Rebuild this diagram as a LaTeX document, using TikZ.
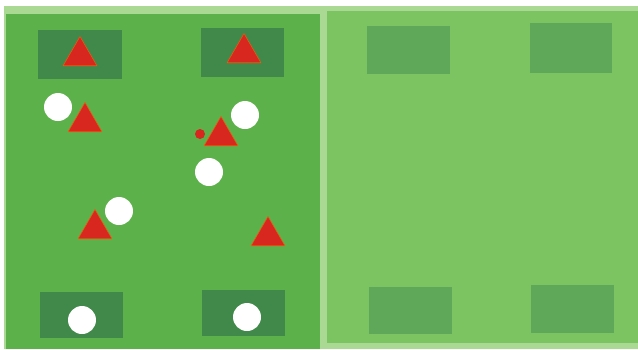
\documentclass[tikz,border=0pt]{standalone}
\usetikzlibrary{shapes.geometric}

\definecolor{edgegreen}{HTML}{A9D993}
\definecolor{fieldL}{HTML}{5DB14A}
\definecolor{fieldR}{HTML}{7CC462}
\definecolor{zoneLc}{HTML}{40894A}
\definecolor{zoneRc}{HTML}{5FA85A}
\definecolor{playerred}{HTML}{D8271E}

\tikzset{
    zoneL/.style={fill=zoneLc},
    zoneR/.style={fill=zoneRc},
    player/.style={regular polygon, regular polygon sides=3, fill=playerred,
        draw=orange!60!playerred, line width=0.3pt, inner sep=0pt, minimum size=0.78cm},
    ball/.style={circle, fill=white, inner sep=0pt, minimum size=0.56cm},
    cone/.style={circle, fill=playerred, inner sep=0pt, minimum size=0.2cm}
}

\begin{document}
\begin{tikzpicture}[x=0.02cm, y=-0.02cm, line join=round]
    \useasboundingbox (0,0) rectangle (638,349);
    % Untergrund (heller Rand)
    \fill[white] (0,0) rectangle (638,349);
    \fill[edgegreen] (4,6) rectangle (638,349);

    % 1. linkes Feld
    \fill[fieldL] (6,14) rectangle (320,349);
    \fill[zoneL] (38,30) rectangle (122,79);
    \fill[zoneL] (201,28) rectangle (284,77);
    \fill[zoneL] (40,292) rectangle (123,338);
    \fill[zoneL] (202,290) rectangle (285,336);

    % 2. rechtes Feld (leer)
    \fill[fieldR] (327,11) rectangle (638,343);
    \fill[zoneR] (367,26) rectangle (450,74);
    \fill[zoneR] (530,23) rectangle (612,73);
    \fill[zoneR] (369,287) rectangle (452,334);
    \fill[zoneR] (531,285) rectangle (614,333);

    % Spieler
    \node[player] (pA) at (80,56) {};
    \node[player] (pB) at (244,53) {};
    \node[player] (pC) at (85,122) {};
    \node[player] (pD) at (221,136) {};
    \node[player] (pE) at (95,229) {};
    \node[player] (pF) at (268,236) {};

    % Baelle
    \node[ball] (bA) at (58,107) {};
    \node[ball] (bB) at (245,115) {};
    \node[ball] (bC) at (209,172) {};
    \node[ball] (bD) at (119,211) {};
    \node[ball] (bE) at (82,320) {};
    \node[ball] (bF) at (247,317) {};

    % Huetchen
    \node[cone] (c1) at (200,134) {};
\end{tikzpicture}
\end{document}
